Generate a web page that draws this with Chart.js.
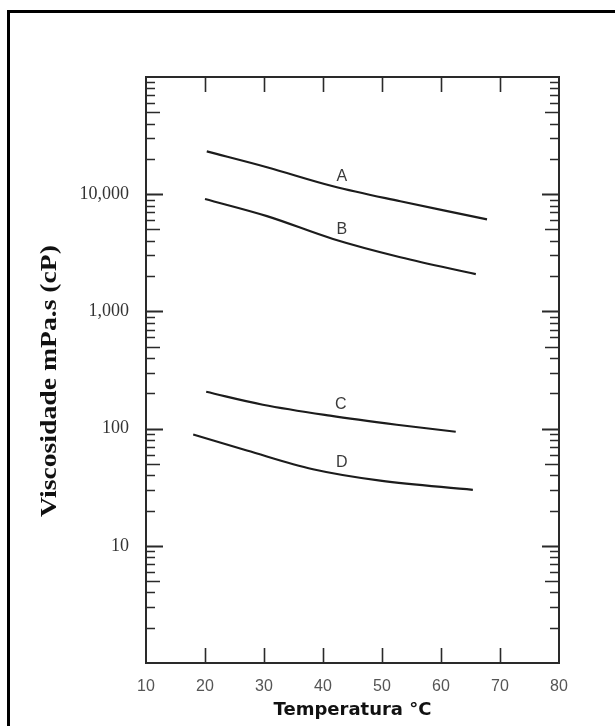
<!DOCTYPE html>
<html>
<head>
<meta charset="utf-8">
<script src="https://cdn.jsdelivr.net/npm/chart.js@4"></script>
<style>
  html, body { margin: 0; padding: 0; background: #fff; }
  #wrap { width: 615px; height: 726px; position: relative; }
</style>
</head>
<body>
<div id="wrap"><canvas id="chart" width="615" height="726"></canvas></div>
<script>
// temperatures (°C) and viscosities (cP)
const tempA = [20.3, 30.5, 41.7, 53.1, 67.8];
const viscA = [23200, 17000, 11700, 8700, 6100];
const tempB = [20.0, 30.5, 41.7, 53.1, 65.9];
const viscB = [9100, 6500, 4150, 2900, 2080];
const tempC = [20.2, 29.8, 41.2, 52.5, 62.5];
const viscC = [206, 160, 129, 108, 94];
const tempD = [18.0, 27.1, 38.3, 49.7, 65.4];
const viscD = [89, 65, 45, 36, 30];

const curveNames = ["A", "B", "C", "D"];
const labelTemp = [43.2, 43.2, 43.0, 43.2];
const labelVisc = [14200, 4950, 160, 51.5];

const xTicks = [10, 20, 30, 40, 50, 60, 70, 80];
const yLabelled = [10, 100, 1000, 10000];

const toPoints = (xs, ys) => xs.map((x, i) => ({ x: x, y: ys[i] }));

const lineStyle = {
    borderColor: "#1c1c1c",
    borderWidth: 2.1,
    pointRadius: 0,
    fill: false,
    tension: 0.35
};

const paperPlugin = {
    id: "paper",
    beforeDraw(chart) {
        const ctx = chart.ctx;
        ctx.save();
        ctx.fillStyle = "#fff";
        ctx.fillRect(0, 0, chart.width, chart.height);
        // outer frame (left and top visible)
        ctx.strokeStyle = "#000";
        ctx.lineWidth = 3;
        ctx.strokeRect(8.5, 11.5, 640, 760);
        ctx.restore();
    },
    afterDraw(chart) {
        const ctx = chart.ctx;
        const a = chart.chartArea;
        const xs = chart.scales.x, ys = chart.scales.y;
        ctx.save();
        ctx.strokeStyle = "#2a2a2a";
        ctx.lineWidth = 2;
        ctx.strokeRect(a.left, a.top, a.right - a.left, a.bottom - a.top);

        // x ticks, inward on top and bottom
        ctx.lineWidth = 1.6;
        for (let v = 20; v <= 70; v += 10) {
            const px = Math.round(xs.getPixelForValue(v)) + 0.5;
            ctx.beginPath();
            ctx.moveTo(px, a.bottom); ctx.lineTo(px, a.bottom - 15);
            ctx.moveTo(px, a.top); ctx.lineTo(px, a.top + 15);
            ctx.stroke();
        }
        // log y ticks, inward on left and right
        for (let d = 1; d < 100000; d *= 10) {
            for (let m = 1; m <= 9; m++) {
                const v = m * d;
                if (v <= 1) continue;
                const py = Math.round(ys.getPixelForValue(v)) + 0.5;
                const len = m === 1 ? 17 : (m === 5 ? 14 : 9);
                ctx.lineWidth = m === 1 ? 2 : 1.5;
                ctx.beginPath();
                ctx.moveTo(a.left, py); ctx.lineTo(a.left + len, py);
                ctx.moveTo(a.right, py); ctx.lineTo(a.right - len, py);
                ctx.stroke();
            }
        }

        // curve letters
        ctx.fillStyle = "#3a3a3a";
        ctx.font = "16px 'Liberation Sans', Arial, sans-serif";
        ctx.textAlign = "center";
        ctx.textBaseline = "middle";
        curveNames.forEach((n, i) => {
            ctx.fillText(n, xs.getPixelForValue(labelTemp[i]), ys.getPixelForValue(labelVisc[i]));
        });

        // axis titles
        ctx.fillStyle = "#111";
        ctx.font = "bold 18px 'DejaVu Sans', Verdana, sans-serif";
        ctx.fillText("Temperatura °C", (a.left + a.right) / 2, 710);

        ctx.save();
        ctx.translate(50, 381);
        ctx.rotate(-Math.PI / 2);
        ctx.font = "bold 23px 'Liberation Serif', 'Times New Roman', serif";
        const t = "Viscosidade mPa.s (cP)";
        const w = ctx.measureText(t).width;
        ctx.scale(272 / w, 1);
        ctx.fillText(t, 0, 0);
        ctx.restore();
        ctx.restore();
    }
};

new Chart(document.getElementById("chart"), {
    type: "line",
    data: {
        datasets: [
            Object.assign({ label: "A", data: toPoints(tempA, viscA) }, lineStyle),
            Object.assign({ label: "B", data: toPoints(tempB, viscB) }, lineStyle),
            Object.assign({ label: "C", data: toPoints(tempC, viscC) }, lineStyle),
            Object.assign({ label: "D", data: toPoints(tempD, viscD) }, lineStyle)
        ]
    },
    options: {
        responsive: false,
        animation: false,
        layout: { padding: { top: 77, right: 56, left: 0, bottom: 0 } },
        plugins: { legend: { display: false }, tooltip: { enabled: false } },
        scales: {
            x: {
                type: "linear",
                min: 10, max: 80,
                afterFit(s) { s.height = 63; },
                afterBuildTicks(s) { s.ticks = xTicks.map(v => ({ value: v })); },
                grid: { display: false },
                border: { display: false },
                ticks: {
                    padding: 6,
                    color: "#555",
                    font: { family: "'Liberation Sans', Arial, sans-serif", size: 16 }
                }
            },
            y: {
                type: "logarithmic",
                min: 1, max: 100000,
                afterFit(s) { s.width = 146; },
                afterBuildTicks(s) { s.ticks = yLabelled.map(v => ({ value: v })); },
                grid: { display: false },
                border: { display: false },
                ticks: {
                    autoSkip: false,
                    padding: 9,
                    color: "#333",
                    font: { family: "'Liberation Serif', 'Times New Roman', serif", size: 18 },
                    callback: v => v.toLocaleString("en-US")
                }
            }
        }
    },
    plugins: [paperPlugin]
});
</script>
</body>
</html>
